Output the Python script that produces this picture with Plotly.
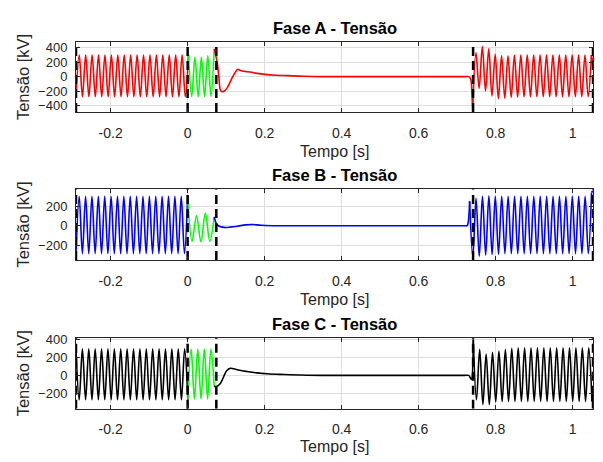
import numpy as np
import plotly.graph_objects as go

# ---------------- data ----------------
# oscillating segments: [t_start, t_end] + successive extremum values (kV)
# transient segments: explicit (t, v) knots

# Phase A
A_pre_t = [-0.29, 0.0023]
A_pre_v = [-280, 300, -280, 300, -280, 300, -280, 300, -280, 300, -280, 300,
           -280, 300, -280, 300, -280, 300, -280, 300, -280, 300, -280, 300,
           -280, 300, -280, 300, -280, 300, -280, 300, -280, 300, -280, 300]
A_fault_t = [0.0023, 0.069]
A_fault_v = [300, -278, 268, -278, 270, -275, 290, -275, 385]
A_open_t = [0.069, 0.0763, 0.081, 0.085, 0.089, 0.095, 0.102, 0.11, 0.119, 0.13,
            0.137, 0.15, 0.163, 0.18, 0.2, 0.23, 0.258, 0.3, 0.35, 0.45, 0.55,
            0.65, 0.72, 0.73, 0.735, 0.7385, 0.7405]
A_open_v = [385, 210, 0, -186, -210, -200, -163, -80, 18, 100, 86, 72, 63, 45,
            31, 20, 14, 5, 0, 0, 0, 0, 0, 0, -30, -250, -470]
A_post_t = [0.7405, 1.0488]
A_post_v = [-470, 335, -163, 416, -200, 385, -270, 310, -305, 290, -300, 290,
            -290, 295, -285, 300, -280, 300, -280, 300, -280, 300, -280, 300,
            -280, 300, -280, 300, -280, 300, -280, 300, -280, 300, -280, 300,
            -280, 300]
A_end_t = [1.0488, 1.053]
A_end_v = [300, 180]

# Phase B
B_pre_t = [-0.29, 0.0]
B_pre_v = [-285, 300, -285, 300, -285, 300, -285, 300, -285, 300, -285, 300,
           -285, 300, -285, 300, -285, 300, -285, 300, -285, 300, -285, 300,
           -285, 300, -285, 300, -285, 300, -285, 300, -285, 300, -285, 300]
B_fault_t = [0.0, 0.069]
B_fault_v = [300, -160, 100, -165, 130, -160, 90]
B_open_t = [0.069, 0.0755, 0.082, 0.09, 0.1, 0.11, 0.13, 0.15, 0.17, 0.19,
            0.22, 0.3, 0.45, 0.6, 0.7, 0.72, 0.726, 0.729, 0.7325]
B_open_v = [90, 15, -5, -15, -18, -15, -5, 8, 12, 4, 0, 0, 0, 0, 0, 0, 0, 40, 250]
B_post_t = [0.7325, 1.0492]
B_post_v = [250, -320, 280, -315, 300, -300, 305, -295, 300, -290, 300, -285,
            300, -285, 300, -285, 300, -285, 300, -285, 300, -285, 300, -285,
            300, -285, 300, -285, 300, -285, 300, -285, 300, -285, 300, -285,
            300, -285, 340]
B_end_t = [1.0492, 1.053]
B_end_v = [340, 355]

# Phase C
C_pre_t = [-0.29, 0.0005]
C_pre_v = [300, -275, 300, -275, 300, -275, 300, -275, 300, -275, 300, -275,
           300, -275, 300, -275, 300, -275, 300, -275, 300, -275, 300, -275,
           300, -275, 300, -275, 300, -275, 300, -275, 300, -275, 300, -275]
C_fault_t = [0.0005, 0.069]
C_fault_v = [-275, 297, -265, 297, -265, 297, -265, 297, -122]
C_open_t = [0.069, 0.0745, 0.085, 0.094, 0.102, 0.111, 0.119, 0.135, 0.154,
            0.18, 0.206, 0.25, 0.29, 0.35, 0.5, 0.65, 0.72, 0.73, 0.734, 0.737,
            0.742]
C_open_v = [-122, -128, -92, -10, 55, 80, 75, 58, 44, 28, 18, 10, 5, 0, 0, 0,
            0, 0, -25, -45, 405]
C_post_t = [0.742, 1.0503]
C_post_v = [405, -275, 293, -330, 240, -330, 260, -300, 275, -295, 290, -293,
            305, -293, 310, -293, 310, -293, 310, -293, 310, -293, 310, -293,
            310, -293, 310, -293, 310, -293, 310, -293, 310, -293, 310, -293,
            310, -293]
C_end_t = [1.0503, 1.053]
C_end_v = [-293, -200]

# switching instants (dashed lines)
switch_t = [-0.29, 0.0, 0.0745, 0.7415, 1.053]

titles = ["Fase A - Tensão", "Fase B - Tensão", "Fase C - Tensão"]
x_ticks = [-0.2, 0, 0.2, 0.4, 0.6, 0.8, 1]
x_tick_labels = ["-0.2", "0", "0.2", "0.4", "0.6", "0.8", "1"]
x_range = [-0.29, 1.053]
y_ranges = [[-490, 478], [-350, 372], [-375, 422]]
y_ticks = [[-400, -200, 0, 200, 400], [-200, 0, 200], [-200, 0, 200, 400]]

# ---------------- figure ----------------
W, H = 603, 462
L, R = 76, 593
panels_px = [(37.7, 108.3), (186.7, 258.3), (337.3, 409.0)]
title_px = [23.0, 172.5, 323.5]
xlabel_px = [148.5, 298.0, 447.5]

RED, GREEN, BLUE, BLACK = "#ff0000", "#00ff00", "#0000ff", "#000000"

def osc(tr, vals):
    return list(np.linspace(tr[0], tr[1], len(vals))), vals

phases = [
    [(osc(A_pre_t, A_pre_v), RED), (osc(A_fault_t, A_fault_v), GREEN),
     ((A_open_t, A_open_v), RED), (osc(A_post_t, A_post_v), RED),
     ((A_end_t, A_end_v), RED)],
    [(osc(B_pre_t, B_pre_v), BLUE), (osc(B_fault_t, B_fault_v), GREEN),
     ((B_open_t, B_open_v), BLUE), (osc(B_post_t, B_post_v), BLUE),
     ((B_end_t, B_end_v), BLUE)],
    [(osc(C_pre_t, C_pre_v), BLACK), (osc(C_fault_t, C_fault_v), GREEN),
     ((C_open_t, C_open_v), BLACK), (osc(C_post_t, C_post_v), BLACK),
     ((C_end_t, C_end_v), BLACK)],
]

fig = go.Figure()
TICKC = "#262626"
GRIDC = "#dedede"
FONT = "Liberation Sans, Arial, sans-serif"

for i, segs in enumerate(phases):
    sfx = "" if i == 0 else str(i + 1)
    xa, ya = "x" + sfx, "y" + sfx
    for (xs, ys), col in segs:
        fig.add_trace(go.Scatter(x=xs, y=ys, mode="lines", xaxis=xa, yaxis=ya,
                                 line=dict(color=col, width=1.6, shape="spline",
                                           smoothing=1.0),
                                 showlegend=False, hoverinfo="skip"))
    lo, hi = y_ranges[i]
    dx, dy = [], []
    for t in switch_t:
        dx += [t, t, None]
        dy += [lo, hi, None]
    fig.add_trace(go.Scatter(x=dx, y=dy, mode="lines", xaxis=xa, yaxis=ya,
                             line=dict(color="black", width=2.5, dash="9px,5px"),
                             showlegend=False, hoverinfo="skip"))

    top, bot = panels_px[i]
    dom_y = [1 - bot / H, 1 - top / H]
    common = dict(showline=True, linecolor=TICKC, linewidth=1, mirror="ticks",
                  ticks="inside", ticklen=4, tickcolor=TICKC, showgrid=True,
                  gridcolor=GRIDC, gridwidth=1, zeroline=False)
    fig.layout["xaxis" + sfx] = dict(domain=[L / W, R / W], range=x_range,
                                     tickvals=x_ticks, ticktext=x_tick_labels,
                                     anchor=ya, ticklabelstandoff=8,
                                     tickfont=dict(family=FONT, size=14, color=TICKC),
                                     **common)
    fig.layout["yaxis" + sfx] = dict(domain=dom_y, range=y_ranges[i],
                                     tickvals=y_ticks[i], anchor=xa,
                                     ticklabelstandoff=5,
                                     tickfont=dict(family=FONT, size=13, color=TICKC),
                                     **common)

    cx = (L + R) / 2 / W
    fig.add_annotation(text="<b>" + titles[i] + "</b>", x=cx, y=1 - title_px[i] / H,
                       xref="paper", yref="paper", showarrow=False,
                       font=dict(family=FONT, size=16.5, color="black"),
                       xanchor="center", yanchor="middle")
    fig.add_annotation(text="Tempo [s]", x=cx, y=1 - xlabel_px[i] / H,
                       xref="paper", yref="paper", showarrow=False,
                       font=dict(family=FONT, size=16, color=TICKC),
                       xanchor="center", yanchor="middle")
    fig.add_annotation(text="Tensão [kV]", x=23 / W, y=1 - (top + bot) / 2 / H,
                       xref="paper", yref="paper", showarrow=False, textangle=-90,
                       font=dict(family=FONT, size=16.5, color=TICKC),
                       xanchor="center", yanchor="middle")

fig.update_layout(width=W, height=H, margin=dict(l=0, r=0, t=0, b=0),
                  paper_bgcolor="white", plot_bgcolor="white", showlegend=False)

fig.write_html("out.html")
